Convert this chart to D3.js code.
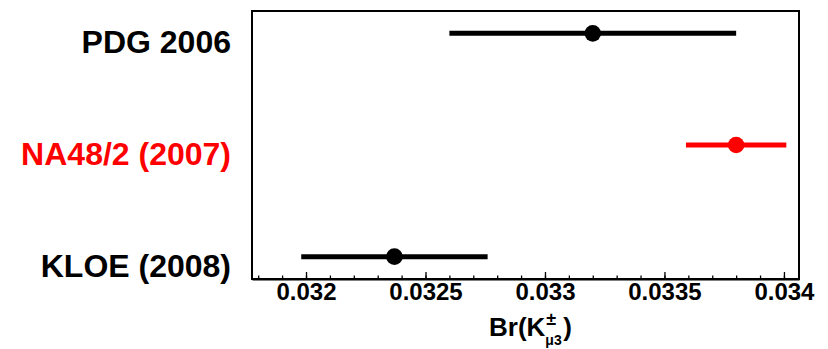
<!DOCTYPE html>
<html>
<head>
<meta charset="utf-8">
<script src="https://cdn.jsdelivr.net/npm/d3@7"></script>
<style>
  body { margin: 0; background: #fff; }
  svg { font-family: "Liberation Sans", Arial, sans-serif; font-weight: bold; }
</style>
</head>
<body>
<div id="canvas"></div>
<script>
// measurements, top to bottom
const names = ["PDG 2006", "NA48/2 (2007)", "KLOE (2008)"];
const values = [0.0332, 0.03380, 0.03237];
const errors = [0.0006, 0.00021, 0.00039];
const colors = ["black", "red", "black"];
const majorTicks = [0.032, 0.0325, 0.033, 0.0335, 0.034];

const width = 828;
const height = 349;
const margin = { top: 11, left: 252, bottom: 70, right: 29 };
const iwidth = width - margin.left - margin.right;
const iheight = height - margin.top - margin.bottom;

const data = names.map((n, i) => ({ name: n, value: values[i], err: errors[i], color: colors[i], row: i + 1 }));

const svg = d3.select("#canvas").append("svg")
  .attr("width", width)
  .attr("height", height);

const g = svg.append("g")
  .attr("transform", `translate(${margin.left},${margin.top})`);

const x = d3.scaleLinear()
  .domain([0.031774, 0.034063])
  .range([0, iwidth]);

const y = d3.scaleLinear()
  .domain([0.8, 3.2])
  .range([0, iheight]);

// frame
g.append("rect")
  .attr("width", iwidth)
  .attr("height", iheight)
  .attr("fill", "none")
  .attr("stroke", "black")
  .attr("stroke-width", 2);

// minor ticks every 0.0001
const minorTicks = d3.range(318, 341).map(d => d / 10000);
g.append("g")
  .attr("transform", `translate(0,${iheight})`)
  .call(d3.axisBottom(x).tickValues(minorTicks).tickSize(-3.5).tickFormat(""))
  .call(a => a.select(".domain").remove())
  .call(a => a.selectAll("line").attr("stroke-width", 1.3));

const xAxis = g.append("g")
  .attr("transform", `translate(0,${iheight})`)
  .call(d3.axisBottom(x)
    .tickValues(majorTicks)
    .tickSize(-7)
    .tickSizeOuter(0)
    .tickPadding(4)
    .tickFormat(d => String(+d.toFixed(4))));
xAxis.select(".domain").attr("stroke-width", 2);
xAxis.selectAll("line").attr("stroke-width", 1.3);
xAxis.selectAll("text")
  .style("font-size", "24px")
  .style("font-weight", "bold")
  .attr("fill", "black");

// error bars
g.selectAll(".bar")
  .data(data)
  .enter()
  .append("line")
  .attr("class", "bar")
  .attr("x1", d => x(d.value - d.err))
  .attr("x2", d => x(d.value + d.err))
  .attr("y1", d => y(d.row))
  .attr("y2", d => y(d.row))
  .attr("stroke", d => d.color)
  .attr("stroke-width", 5);

g.selectAll(".dot")
  .data(data)
  .enter()
  .append("circle")
  .attr("class", "dot")
  .attr("cx", d => x(d.value))
  .attr("cy", d => y(d.row))
  .attr("r", 8.3)
  .attr("fill", d => d.color);

// row labels
g.selectAll(".name")
  .data(data)
  .enter()
  .append("text")
  .attr("class", "name")
  .attr("text-anchor", "end")
  .attr("x", -21)
  .attr("y", d => y(d.row) + 20)
  .style("font-size", "32px")
  .attr("fill", d => d.color)
  .text(d => d.name);

// axis title Br(K±μ3)
const title = svg.append("text")
  .attr("x", 489)
  .attr("y", 336)
  .style("font-size", "26px");
title.append("tspan").text("Br(K");
const w = title.node().getComputedTextLength();
svg.append("text")
  .attr("x", 489 + w + 1)
  .attr("y", 325)
  .style("font-size", "18px")
  .text("\u00b1");
svg.append("text")
  .attr("x", 489 + w)
  .attr("y", 345)
  .style("font-size", "14px")
  .text("\u03bc3");
svg.append("text")
  .attr("x", 489 + w + 18)
  .attr("y", 336)
  .style("font-size", "26px")
  .text(")");
</script>
</body>
</html>
